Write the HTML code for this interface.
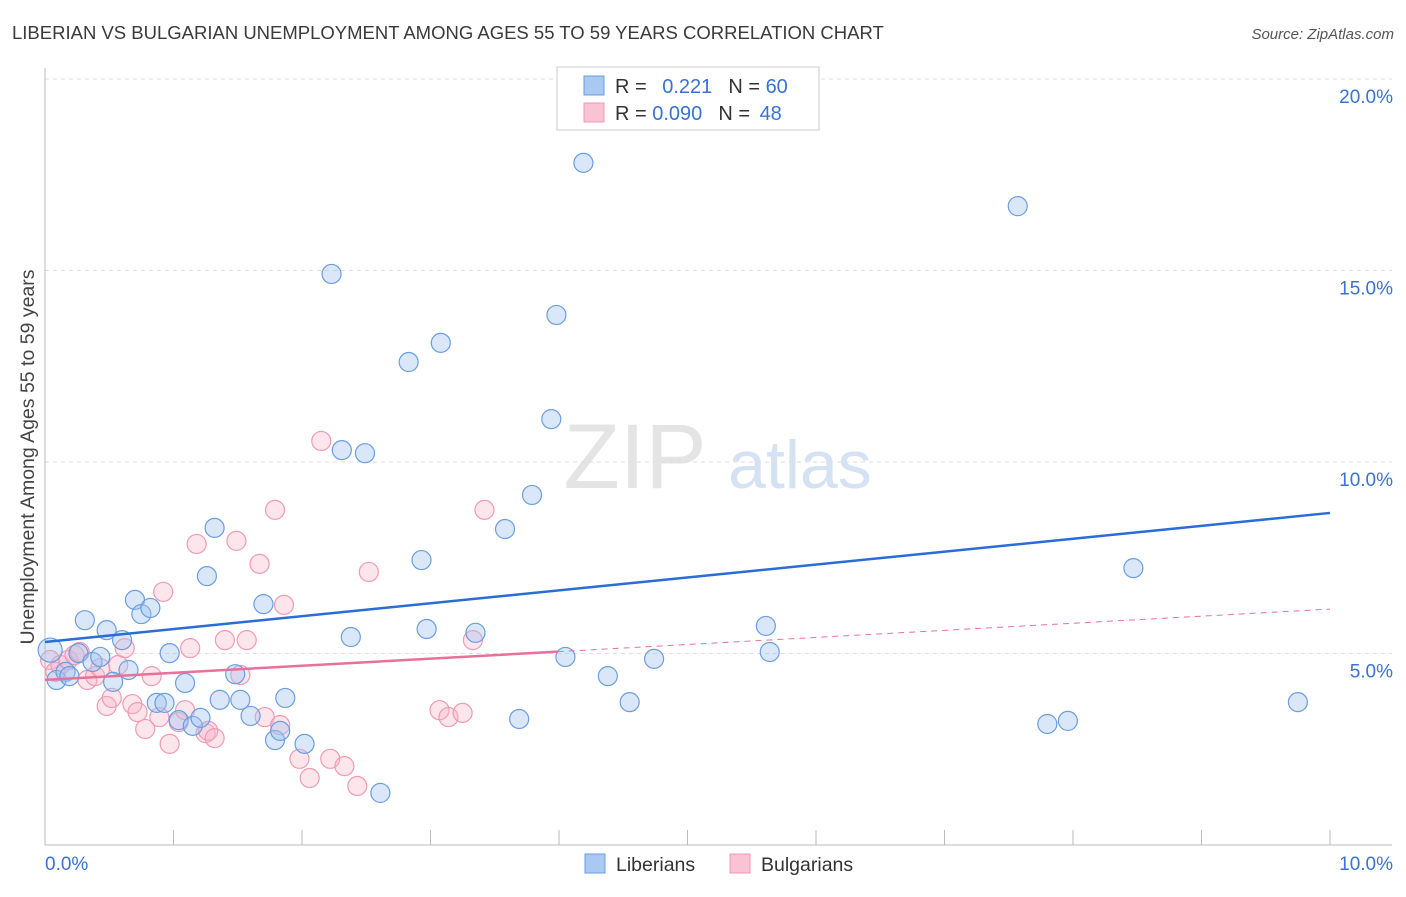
<!DOCTYPE html>
<html><head><meta charset="utf-8"><style>
body{margin:0;background:#fff;font-family:"Liberation Sans",sans-serif}
svg text{font-family:"Liberation Sans",sans-serif}
</style></head><body>
<svg id="chart" width="1406" height="892">
<text x="12" y="39" font-size="18.5" fill="#3a3a3a">LIBERIAN VS BULGARIAN UNEMPLOYMENT AMONG AGES 55 TO 59 YEARS CORRELATION CHART</text>
<text x="1394" y="39" font-size="15" fill="#555" font-style="italic" text-anchor="end">Source: ZipAtlas.com</text>
<text x="635" y="488" font-size="92" fill="#e4e4e4" font-family="Liberation Serif" text-anchor="middle">ZIP</text>
<text x="800" y="488" font-size="68" fill="#d4e2f4" text-anchor="middle">atlas</text>
<g id="grid"></g><g id="axes"></g><g id="points"></g><g id="trends"></g>
<text transform="translate(34,457) rotate(-90)" font-size="19.5" fill="#444" text-anchor="middle">Unemployment Among Ages 55 to 59 years</text>
<g>
<rect x="557" y="67" width="262" height="63" fill="#fff" stroke="#ccc"/>
<rect x="584" y="76" width="20" height="19" fill="#a9c8f2" stroke="#6a9ee0"/>
<rect x="584" y="103" width="20" height="19" fill="#f9c3d3" stroke="#f09ab4"/>
<text x="615" y="93" font-size="20" fill="#333">R = <tspan fill="#3a72d0" dx="10">0.221</tspan><tspan dx="16" fill="#333">N = </tspan><tspan fill="#3a72d0">60</tspan></text>
<text x="615" y="120" font-size="20" fill="#333">R = <tspan fill="#3a72d0">0.090</tspan><tspan dx="16" fill="#333">N = </tspan><tspan fill="#3a72d0" dx="4">48</tspan></text>
</g>
<g>
<rect x="585" y="854" width="20" height="19" fill="#a9c8f2" stroke="#6a9ee0"/>
<text x="616" y="871" font-size="19.5" fill="#333">Liberians</text>
<rect x="730" y="854" width="20" height="19" fill="#f9c3d3" stroke="#f09ab4"/>
<text x="761" y="871" font-size="19.5" fill="#333">Bulgarians</text>
</g>
</svg>
<script>
const yTicks=[5,10,15,20];
const yTickLabels=["5.0%","10.0%","15.0%","20.0%"];
const xTickLabels=["0.0%","10.0%"];
const libX=[0.04,0.09,0.16,0.19,0.31,0.26,0.37,0.43,0.48,0.53,0.60,0.65,0.70,0.75,0.82,0.87,0.93,0.97,1.04,1.09,1.15,1.21,1.26,1.32,1.36,1.48,1.52,1.60,1.70,1.79,1.83,1.87,2.02,2.23,2.31,2.38,2.49,2.61,2.83,2.93,2.97,3.08,3.35,3.58,3.69,3.79,3.94,3.98,4.05,4.19,4.38,4.55,4.74,5.61,5.64,7.57,7.80,7.96,8.47,9.75];
const libY=[5.09,4.31,4.52,4.41,5.87,5.01,4.78,4.91,5.61,4.26,5.35,4.57,6.40,6.03,6.19,3.71,3.71,5.01,3.26,4.23,3.11,3.32,7.02,8.28,3.79,4.46,3.79,3.37,6.29,2.74,2.98,3.84,2.64,14.91,10.31,5.43,10.23,1.36,12.61,7.44,5.64,13.11,5.54,8.25,3.29,9.14,11.12,13.84,4.91,17.81,4.41,3.73,4.86,5.72,5.04,16.68,3.16,3.24,7.23,3.73];
const bulX=[0.04,0.08,0.12,0.18,0.23,0.27,0.33,0.39,0.43,0.48,0.52,0.57,0.62,0.68,0.72,0.78,0.83,0.89,0.92,0.97,1.04,1.09,1.13,1.18,1.25,1.27,1.32,1.40,1.49,1.52,1.57,1.67,1.71,1.79,1.83,1.86,1.98,2.06,2.15,2.22,2.33,2.43,2.52,3.07,3.14,3.25,3.33,3.42];
const bulY=[4.83,4.52,4.70,4.83,4.96,5.04,4.31,4.41,4.62,3.63,3.84,4.70,5.14,3.68,3.47,3.03,4.41,3.34,6.61,2.64,3.21,3.52,5.14,7.86,2.92,2.98,2.79,5.35,7.94,4.44,5.35,7.34,3.34,8.75,3.13,6.27,2.25,1.75,10.55,2.25,2.06,1.54,7.13,3.52,3.34,3.45,5.35,8.75];
const libTrend=[5.3,8.67];
const bulTrend=[4.31,6.16];
const bulSolidEnd=3.99;
const X=v=>45+v*128.5, Y=v=>845-v*38.3;
const NS="http://www.w3.org/2000/svg";
function mk(p,t,a){const e=document.createElementNS(NS,t);for(const k in a)e.setAttribute(k,a[k]);p.appendChild(e);return e;}
const grid=document.getElementById('grid'),axes=document.getElementById('axes'),pts=document.getElementById('points'),tr=document.getElementById('trends');
yTicks.forEach((v,i)=>{
 const l=mk(grid,'line',{x1:45,x2:1392,y1:Y(v),y2:Y(v),stroke:'#ddd','stroke-dasharray':'4,4'});
 
 
 const t=mk(axes,'text',{x:1393,y:Y(v)+24,'font-size':19,fill:'#3a72d0','text-anchor':'end'});t.textContent=yTickLabels[i];
 
 
});
mk(axes,'line',{x1:45,x2:45,y1:68,y2:845,stroke:'#bbb'});
mk(axes,'line',{x1:45,x2:1392,y1:845,y2:845,stroke:'#bbb'});
for(let i=1;i<=10;i++){const t=mk(axes,'line',{x1:X(i),x2:X(i),y1:830,y2:845,stroke:'#bbb'});
 
 }
[[0,'start',45],[10,'end',1393]].forEach((d,i)=>{const t=mk(axes,'text',{x:d[2],y:870,'font-size':19,fill:'#3a72d0','text-anchor':d[1]});t.textContent=xTickLabels[i];
 
 });
bulX.forEach((x,i)=>{const c=mk(pts,'circle',{cx:X(x),cy:Y(bulY[i]),r:9.5,fill:'rgba(248,180,200,0.35)',stroke:'#f09ab4','stroke-width':1.2});
 
 });
libX.forEach((x,i)=>{const c=mk(pts,'circle',{cx:X(x),cy:Y(libY[i]),r:i==0?12:9.5,fill:'rgba(160,195,240,0.4)',stroke:'#6a9ee0','stroke-width':1.2});
 
 });
const lt=mk(tr,'line',{x1:X(0),y1:Y(libTrend[0]),x2:X(10),y2:Y(libTrend[1]),stroke:'#2a6dd6','stroke-width':2.5});


const by=x=>bulTrend[0]+(bulTrend[1]-bulTrend[0])*x/10;
const bs=mk(tr,'line',{x1:X(0),y1:Y(by(0)),x2:X(bulSolidEnd),y2:Y(by(bulSolidEnd)),stroke:'#e8709a','stroke-width':2.5});


const bd=mk(tr,'line',{x1:X(bulSolidEnd),y1:Y(by(bulSolidEnd)),x2:X(10),y2:Y(by(10)),stroke:'#e8709a','stroke-width':1,'stroke-dasharray':'6,5'});


</script>
</body></html>
